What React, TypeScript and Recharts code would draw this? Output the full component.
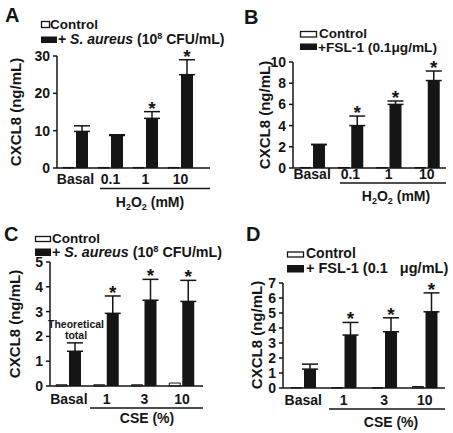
import React from 'react';
import { BarChart, Bar, XAxis, YAxis, ErrorBar, LabelList } from 'recharts';

const FONT = '"Liberation Sans", Arial, Helvetica, sans-serif';
const INK = '#151515';

// ---------- Panel A : H2O2 + S. aureus ----------
const catsA = ['Basal', '0.1', '1', '10'];
const ctrlA = [0.15, 0.15, 0.15, 0.15];
const treatA = [9.8, 8.7, 13.3, 25.0];
const semA = [1.5, 0.2, 1.8, 4.0];
const sigA = [false, false, true, true];
const ticksA = [0, 10, 20, 30];

// ---------- Panel B : H2O2 + FSL-1 ----------
const catsB = ['Basal', '0.1', '1', '10'];
const ctrlB = [0.05, 0.05, 0.05, 0.05];
const treatB = [2.2, 4.0, 6.0, 8.25];
const semB = [0.03, 0.9, 0.32, 0.9];
const sigB = [false, true, true, true];
const ticksB = [0, 2, 4, 6, 8, 10];

// ---------- Panel C : CSE + S. aureus ----------
const catsC = ['Basal', '1', '3', '10'];
const ctrlC = [0.05, 0.05, 0.05, 0.12];
const treatC = [1.4, 2.93, 3.46, 3.41];
const semC = [0.34, 0.7, 0.84, 0.85];
const sigC = [false, true, true, true];
const ticksC = [0, 1, 2, 3, 4, 5];

// ---------- Panel D : CSE + FSL-1 ----------
const catsD = ['Basal', '1', '3', '10'];
const ctrlD = [0.02, 0.02, 0.02, 0.1];
const treatD = [1.26, 3.53, 3.75, 5.08];
const semD = [0.33, 0.84, 0.93, 1.26];
const sigD = [false, true, true, true];
const ticksD = [0, 1, 2, 3, 4, 5, 6, 7];

type Row = { cat: string; control: number; treated: number; err: number[]; sem: number; sig: boolean };

function buildRows(cats: string[], ctrl: number[], treat: number[], sem: number[], sig: boolean[]): Row[] {
  return cats.map((c, i) => ({ cat: c, control: ctrl[i], treated: treat[i], err: [0, sem[i]], sem: sem[i], sig: sig[i] }));
}

const rowsA = buildRows(catsA, ctrlA, treatA, semA, sigA);
const rowsB = buildRows(catsB, ctrlB, treatB, semB, sigB);
const rowsC = buildRows(catsC, ctrlC, treatC, semC, sigC);
const rowsD = buildRows(catsD, ctrlD, treatD, semD, sigD);

const axisStyle = { stroke: INK, strokeWidth: 1.5 };
const tickStyle = { fontSize: 14, fontWeight: 700, fill: INK, fontFamily: FONT };

function makeMarks(rows: Row[], note?: string[]) {
  return (props: any) => {
    const vb = props.viewBox || props;
    const x = Number(vb.x ?? props.x);
    const y = Number(vb.y ?? props.y);
    const w = Number(vb.width ?? props.width);
    const h = Math.abs(Number(vb.height ?? props.height));
    const value = Number(props.value);
    let idx = props.index;
    if (idx === undefined || idx === null) idx = rows.findIndex((r) => r.treated === value);
    const row = rows[idx];
    if (!row || !value || !isFinite(x) || !isFinite(y)) return null;
    const errTop = y - (row.sem * h) / value;
    const cx = x + w / 2;
    const out: any[] = [];
    if (row.sig) {
      out.push(
        <text key="s" x={cx} y={errTop + 3} textAnchor="middle" fontSize={19} fontWeight={700} fill={INK} fontFamily={FONT}>
          *
        </text>
      );
    }
    if (note && idx === 0) {
      out.push(
        <text key="n" x={cx + 1} textAnchor="middle" fontSize={10.5} fontWeight={700} fill={INK} fontFamily={FONT}>
          <tspan x={cx + 1} y={errTop - 15}>{note[0]}</tspan>
          <tspan x={cx + 1} y={errTop - 4}>{note[1]}</tspan>
        </text>
      );
    }
    return <g>{out}</g>;
  };
}

type PanelProps = {
  rows: Row[];
  ticks: number[];
  box: { left: number; top: number; width: number; height: number };
  margin: { top: number; right: number; bottom: number; left: number };
  yWidth: number;
  xGap: number;
  xPad: { left: number; right: number };
  note?: string[];
};

function Panel({ rows, ticks, box, margin, yWidth, xGap, xPad, note }: PanelProps) {
  const max = ticks[ticks.length - 1];
  return (
    <div style={{ position: 'absolute', left: box.left, top: box.top, width: box.width, height: box.height }}>
      <BarChart width={box.width} height={box.height} data={rows} margin={margin} barGap={2} barCategoryGap={0}>
        <XAxis
          dataKey="cat"
          interval={0}
          tickLine={false}
          tickSize={0}
          tickMargin={xGap}
          padding={xPad}
          axisLine={axisStyle}
          tick={tickStyle}
          height={30}
        />
        <YAxis
          type="number"
          domain={[0, max]}
          ticks={ticks}
          interval={0}
          width={yWidth}
          tickSize={4}
          tickMargin={3}
          tickLine={axisStyle}
          axisLine={axisStyle}
          tick={tickStyle}
        />
        <Bar dataKey="control" fill="#ffffff" stroke={INK} strokeWidth={1} barSize={11} isAnimationActive={false} />
        <Bar dataKey="treated" fill={INK} barSize={12} isAnimationActive={false}>
          <ErrorBar dataKey="err" width={8} strokeWidth={1.5} stroke={INK} direction="y" />
          <LabelList dataKey="treated" content={makeMarks(rows, note)} />
        </Bar>
      </BarChart>
    </div>
  );
}

const T = { fontFamily: FONT, fontWeight: 700, fill: INK } as const;

function YTitle({ x, y }: { x: number; y: number }) {
  return (
    <text transform={`translate(${x},${y}) rotate(-90)`} textAnchor="middle" dy="0.36em" fontSize={15} {...T}>
      CXCL8 (ng/mL)
    </text>
  );
}

function H2O2({ x, y }: { x: number; y: number }) {
  return (
    <text x={x} y={y} textAnchor="middle" fontSize={14} {...T}>
      H<tspan fontSize={9} dy={3}>2</tspan>
      <tspan dy={-3}>O</tspan>
      <tspan fontSize={9} dy={3}>2</tspan>
      <tspan dy={-3}> (mM)</tspan>
    </text>
  );
}

function Aureus({ x, y, size }: { x: number; y: number; size: number }) {
  return (
    <text x={x} y={y} fontSize={size} {...T}>
      +{' '}
      <tspan fontStyle="italic">S. aureus</tspan> (10
      <tspan fontSize={size * 0.65} dy={-5}>8</tspan>
      <tspan dy={5}> CFU/mL)</tspan>
    </text>
  );
}

function Overlay() {
  return (
    <svg width={453} height={433} style={{ position: 'absolute', left: 0, top: 0, pointerEvents: 'none' }}>
      {/* Panel A */}
      <text x={5} y={22} fontSize={20} {...T}>A</text>
      <rect x={41.5} y={21.5} width={8} height={6} fill="#fff" stroke={INK} strokeWidth={1.3} />
      <text x={50} y={29} fontSize={13.5} {...T}>Control</text>
      <rect x={41} y={36.5} width={16} height={6.5} fill={INK} />
      <Aureus x={58} y={44} size={14} />
      <YTitle x={16} y={112} />
      <line x1={100} x2={210} y1={188.5} y2={188.5} stroke={INK} strokeWidth={1.3} />
      <H2O2 x={150} y={207} />

      {/* Panel B */}
      <text x={244} y={24} fontSize={20} {...T}>B</text>
      <rect x={300.5} y={31.5} width={16} height={5.5} fill="#fff" stroke={INK} strokeWidth={1.3} />
      <text x={319} y={38} fontSize={13.5} {...T}>Control</text>
      <rect x={300} y={43.5} width={17} height={6.5} fill={INK} />
      <text x={318} y={52} fontSize={13.7} {...T}>+FSL-1 (0.1μg/mL)</text>
      <YTitle x={265} y={115} />
      <line x1={340} x2={446} y1={183} y2={183} stroke={INK} strokeWidth={1.3} />
      <H2O2 x={396} y={201} />

      {/* Panel C */}
      <text x={4} y={241} fontSize={20} {...T}>C</text>
      <rect x={35.5} y={236.5} width={15} height={5} fill="#fff" stroke={INK} strokeWidth={1.3} />
      <text x={52} y={242.5} fontSize={13.5} {...T}>Control</text>
      <rect x={35} y={248.5} width={16} height={7.5} fill={INK} />
      <Aureus x={52} y={257} size={14.3} />
      <YTitle x={15} y={324} />
      <line x1={90} x2={203} y1={408} y2={408} stroke={INK} strokeWidth={1.3} />
      <text x={147} y={423} textAnchor="middle" fontSize={14} {...T}>CSE (%)</text>

      {/* Panel D */}
      <text x={246} y={241} fontSize={20} {...T}>D</text>
      <rect x={287.5} y={252} width={16} height={5} fill="#fff" stroke={INK} strokeWidth={1.3} />
      <text x={306} y={258} fontSize={14} {...T}>Control</text>
      <rect x={287} y={265} width={17} height={7.5} fill={INK} />
      <text x={306} y={273} fontSize={14.5} style={{ whiteSpace: 'pre' }} {...T}>+ FSL-1 (0.1   μg/mL)</text>
      <YTitle x={257} y={335} />
      <line x1={329} x2={445} y1={409} y2={409} stroke={INK} strokeWidth={1.3} />
      <text x={391} y={427} textAnchor="middle" fontSize={14} {...T}>CSE (%)</text>
    </svg>
  );
}

export default function App() {
  return (
    <div style={{ position: 'absolute', left: 0, top: 0, width: 453, height: 433, background: '#fff', overflow: 'hidden', fontFamily: FONT }}>
      <Panel
        rows={rowsA}
        ticks={ticksA}
        box={{ left: 0, top: 0, width: 226, height: 215 }}
        margin={{ top: 56, right: 16, bottom: 17, left: 0 }}
        yWidth={57}
        xGap={6}
        xPad={{ left: 1, right: 12 }}
      />
      <Panel
        rows={rowsB}
        ticks={ticksB}
        box={{ left: 226, top: 0, width: 227, height: 215 }}
        margin={{ top: 62, right: 7, bottom: 17, left: 0 }}
        yWidth={67}
        xGap={1}
        xPad={{ left: 0, right: 0 }}
      />
      <Panel
        rows={rowsC}
        ticks={ticksC}
        box={{ left: 0, top: 215, width: 226, height: 218 }}
        margin={{ top: 47, right: 23, bottom: 17, left: 0 }}
        yWidth={50}
        xGap={8}
        xPad={{ left: 0, right: 2 }}
        note={['Theoretical', 'total']}
      />
      <Panel
        rows={rowsD}
        ticks={ticksD}
        box={{ left: 226, top: 215, width: 227, height: 218 }}
        margin={{ top: 68, right: 8, bottom: 15, left: 0 }}
        yWidth={57}
        xGap={7}
        xPad={{ left: 0, right: 0 }}
      />
      <Overlay />
    </div>
  );
}
